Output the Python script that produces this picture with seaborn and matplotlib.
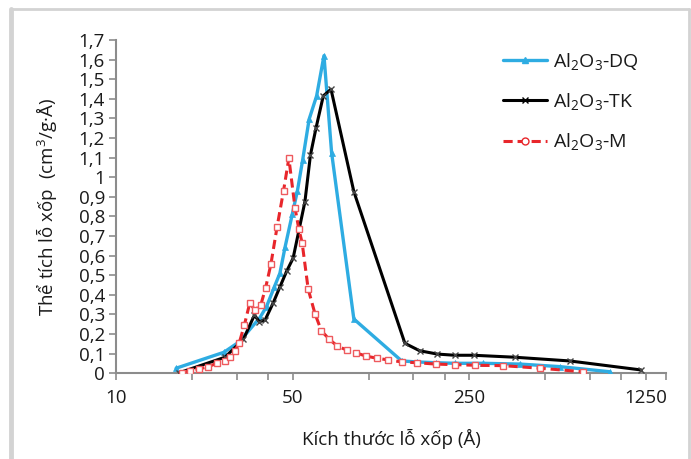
import numpy as np
import pandas as pd
import matplotlib
matplotlib.use("Agg")
import matplotlib.pyplot as plt
import seaborn as sns
from matplotlib.ticker import FixedLocator, NullFormatter
from matplotlib.lines import Line2D

# ---- data ----
dq_x = [17.3, 26.7, 30.7, 37.1, 39.4, 42.3, 44.5, 46.7, 49.8, 52.2, 54.8, 58.1, 62.2, 66.5, 71.3, 87.3,
        135, 155, 184, 219, 284, 397, 571, 898]
dq_y = [0.026, 0.107, 0.16, 0.284, 0.34, 0.44, 0.51, 0.646, 0.81, 0.93, 1.09, 1.296, 1.415, 1.62, 1.125, 0.277,
        0.063, 0.058, 0.054, 0.051, 0.051, 0.047, 0.034, 0.008]

tk_x = [17.8, 27.0, 31.9, 35.3, 36.9, 38.9, 41.9, 44.5, 47.3, 50.2, 55.9, 58.8, 61.9, 66.1, 70.9, 87.3,
        139, 159, 187, 219, 260, 378, 624, 1196]
tk_y = [0.003, 0.082, 0.173, 0.297, 0.263, 0.272, 0.36, 0.44, 0.52, 0.587, 0.875, 1.114, 1.253, 1.415, 1.449, 0.927,
        0.153, 0.115, 0.098, 0.092, 0.092, 0.082, 0.063, 0.017]

m_x = [18.2, 19.6, 21.3, 23.2, 25.0, 27.0, 28.2, 29.5, 30.7, 32.2, 33.8, 35.5, 37.4, 39.1, 41.0, 43.4, 46.0, 48.3,
       51.1, 52.9, 54.5, 57.6, 61.3, 65.0, 69.9, 75.1, 81.7, 88.9, 97.3, 107.6, 119.6, 135, 155, 184, 219, 263, 340,
       476, 703]
m_y = [0.003, 0.013, 0.022, 0.034, 0.051, 0.064, 0.085, 0.114, 0.153, 0.246, 0.357, 0.323, 0.348, 0.437, 0.556,
       0.748, 0.93, 1.097, 0.842, 0.735, 0.666, 0.429, 0.303, 0.216, 0.173, 0.139, 0.119, 0.105, 0.088, 0.077, 0.068,
       0.058, 0.054, 0.047, 0.044, 0.041, 0.039, 0.026, 0.008]

series_names = ["Al$_2$O$_3$-DQ", "Al$_2$O$_3$-TK", "Al$_2$O$_3$-M"]
x_major = [10, 50, 250, 1250]
x_major_labels = ["10", "50", "250", "1250"]
x_minor = [20, 30, 40, 100, 150, 200, 500, 750, 1000, 1500]
y_ticks = [round(0.1 * i, 1) for i in range(18)]

# ---- style ----
sns.set_style("white")
plt.rcParams["font.family"] = ["Open Sans", "DejaVu Sans"]
plt.rcParams["mathtext.fontset"] = "custom"
plt.rcParams["mathtext.rm"] = "Open Sans"
plt.rcParams["mathtext.it"] = "Open Sans:italic"
plt.rcParams["mathtext.bf"] = "Open Sans:bold"

fig = plt.figure(figsize=(6.91, 4.59), dpi=100)
ax = fig.add_axes([116 / 691, 1 - 373.3 / 459, 550 / 691, 333.3 / 459])

blue = "#2EACE2"
red = "#E8262B"

df_dq = pd.DataFrame({"x": dq_x, "y": dq_y})
df_tk = pd.DataFrame({"x": tk_x, "y": tk_y})
df_m = pd.DataFrame({"x": m_x, "y": m_y})

sns.lineplot(data=df_dq, x="x", y="y", ax=ax, sort=False, color=blue, lw=2.4,
             marker="^", markersize=5, markeredgewidth=0.5, markeredgecolor=blue, zorder=3)
sns.lineplot(data=df_tk, x="x", y="y", ax=ax, sort=False, color="black", lw=2.2,
             marker="x", markersize=4, markeredgewidth=1.0, markeredgecolor="#444444", zorder=4)
sns.lineplot(data=df_m, x="x", y="y", ax=ax, sort=False, color=red, lw=2.2, linestyle=(0, (3, 1.6)),
             marker="s", markersize=5, markerfacecolor="white", markeredgecolor="#EE5A5E",
             markeredgewidth=1.0, zorder=5)

ax.set_xscale("log")
ax.set_xlim(10, 1500)
ax.set_ylim(0, 1.7)
ax.xaxis.set_major_locator(FixedLocator(x_major))
ax.set_xticklabels(x_major_labels)
ax.xaxis.set_minor_locator(FixedLocator(x_minor))
ax.xaxis.set_minor_formatter(NullFormatter())
ax.set_yticks(y_ticks)
ax.set_yticklabels([("%g" % v).replace(".", ",") for v in y_ticks])

for s in ["top", "right"]:
    ax.spines[s].set_visible(False)
for s in ["left", "bottom"]:
    ax.spines[s].set_color("#8C8C8C")
    ax.spines[s].set_linewidth(1.5)

ax.tick_params(axis="both", which="both", direction="out", length=5, width=1.2,
               color="#8C8C8C", labelsize=13.5, labelcolor="#1A1A1A",
               bottom=True, left=True)
ax.tick_params(axis="x", which="major", pad=6)
ax.tick_params(axis="y", which="major", pad=3)

ax.set_xlabel("Kích thước lỗ xốp (Å)", fontsize=13.5, color="#1A1A1A", labelpad=16)
ax.set_ylabel("Thể tích lỗ xốp  (cm$^3$/g·Å)", fontsize=13.5, color="#1A1A1A", labelpad=14)

handles = [
    Line2D([], [], color=blue, lw=2.4, marker="^", markersize=5, markeredgecolor=blue),
    Line2D([], [], color="black", lw=2.2, marker="x", markersize=4, markeredgewidth=1.0),
    Line2D([], [], color=red, lw=2.2, linestyle=(0, (3, 1.6)), marker="o", markersize=5,
           markerfacecolor="white", markeredgecolor=red),
]
leg = fig.legend(handles, series_names, loc="upper left", bbox_to_anchor=(485 / 691, 1 - 33 / 459),
                 frameon=False, fontsize=14, handlelength=2.3, handletextpad=0.3, labelspacing=1.0)
for t in leg.get_texts():
    t.set_color("#1A1A1A")

# light grey frame around the figure (left, top, right)
border = "#D3D3D3"
fig.add_artist(Line2D([11 / 691, 11 / 691], [0, 1 - 9 / 459], transform=fig.transFigure, color=border, lw=3.5))
fig.add_artist(Line2D([11 / 691, 689 / 691], [1 - 9 / 459, 1 - 9 / 459], transform=fig.transFigure, color=border, lw=2))
fig.add_artist(Line2D([689 / 691, 689 / 691], [0, 1 - 9 / 459], transform=fig.transFigure, color=border, lw=2))

fig.savefig("out.png", dpi=100)
